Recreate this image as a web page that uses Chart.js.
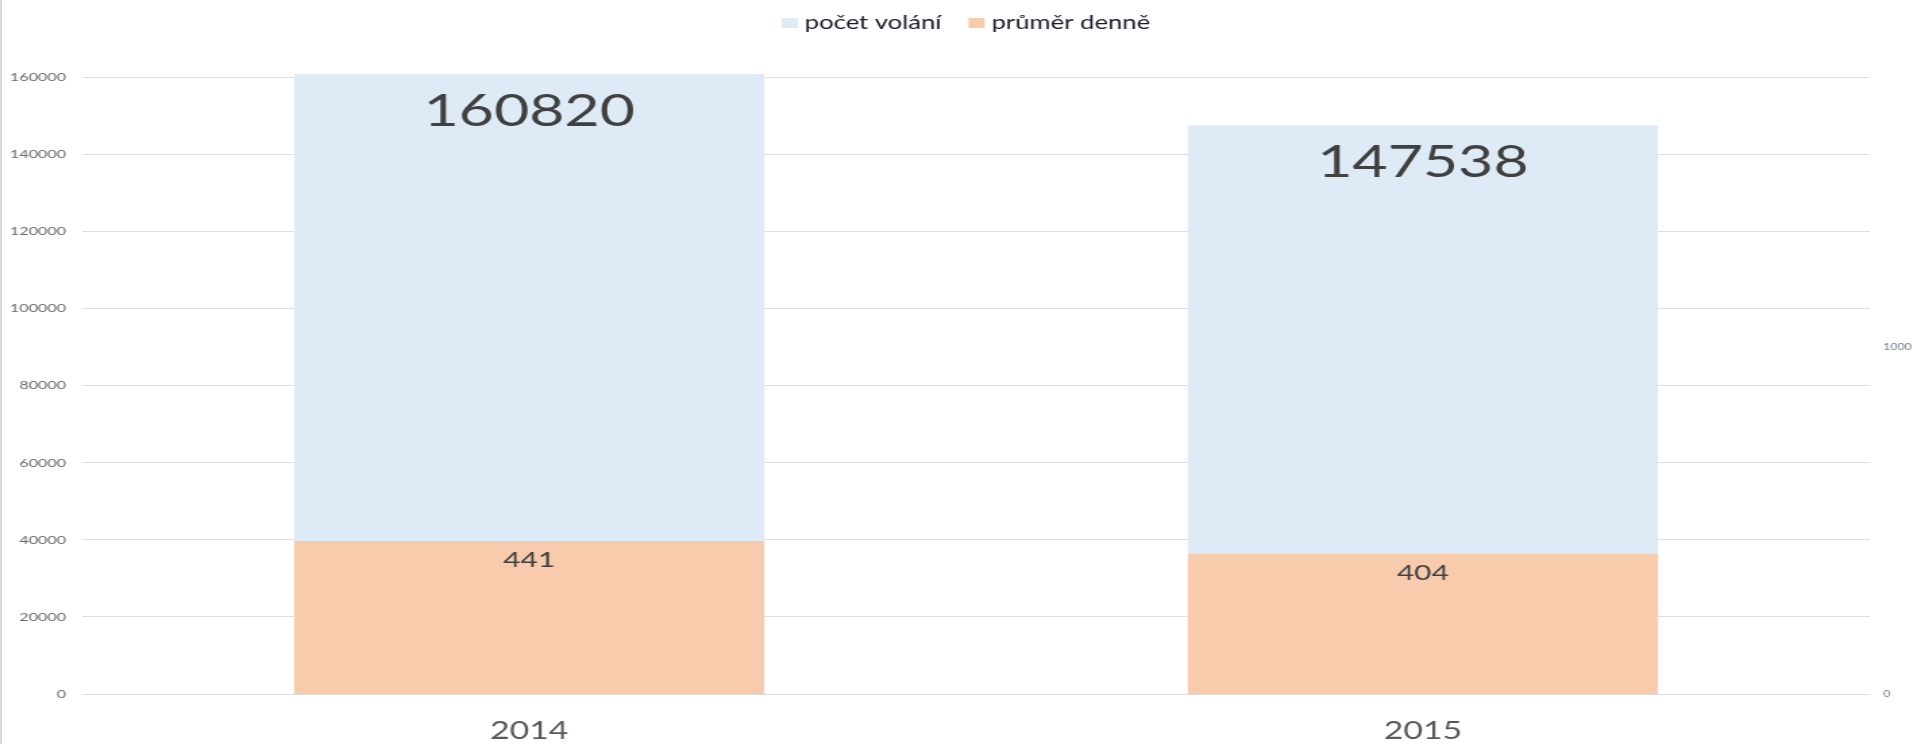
<!DOCTYPE html>
<html>
<head>
<meta charset="utf-8">
<script src="https://cdn.jsdelivr.net/npm/chart.js@4.4.1/dist/chart.umd.min.js"></script>
<style>
  html, body { margin: 0; padding: 0; background: #fff; overflow: hidden; }
  #edge { position: absolute; left: 0; top: 0; width: 2px; height: 744px; background: #d9d9d9; }
  /* the original picture is stretched sideways, so draw narrow and stretch */
  #wrap { position: absolute; left: 0; top: 0; width: 1417px; height: 744px;
          transform: scaleX(1.35); transform-origin: 0 0; }
</style>
</head>
<body>
<div id="wrap"><canvas id="chart"></canvas></div>
<div id="edge"></div>
<script>
const years = ["2014", "2015"];
const callCounts = [160820, 147538];
const dailyAverage = [441, 404];
const leftTicksMax = 180000;
const rightTicksMax = 2000;

// label font size per dataset
const labelSizes = { calls: 45, daily: 22 };

const barLabels = {
  id: "barLabels",
  afterDatasetsDraw(chart) {
    const ctx = chart.ctx;
    chart.data.datasets.forEach((ds, i) => {
      const meta = chart.getDatasetMeta(i);
      const size = labelSizes[ds.key];
      ctx.save();
      ctx.font = `${size}px Lato`;
      ctx.fillStyle = "#404040";
      ctx.textAlign = "center";
      ctx.textBaseline = "middle";
      meta.data.forEach((bar, j) => {
        ctx.fillText(String(ds.data[j]), bar.x, bar.y + size * 0.8 + 1.5);
      });
      ctx.restore();
    });
  },
};

// legend drawn on top of the plot, centred, like the original
const topLegend = {
  id: "topLegend",
  afterDraw(chart) {
    const ctx = chart.ctx;
    const boxW = 12, boxH = 10, gap = 5, itemGap = 20;
    ctx.save();
    ctx.font = "19px Lato";
    ctx.textBaseline = "middle";
    const items = chart.data.datasets.map((ds) => ({
      text: ds.label,
      color: ds.backgroundColor,
      w: ctx.measureText(ds.label).width,
    }));
    const total = items.reduce((s, it) => s + boxW + gap + it.w, 0) + itemGap * (items.length - 1);
    let x = chart.width / 2 + 7 - total / 2;
    const cy = 23;
    items.forEach((it) => {
      ctx.fillStyle = it.color;
      ctx.fillRect(x, cy - boxH / 2, boxW, boxH);
      x += boxW + gap;
      ctx.fillStyle = "#1a1a2e";
      ctx.fillText(it.text, x, cy);
      x += it.w + itemGap;
    });
    ctx.restore();
  },
};

const noPad = (s) => {
  s.paddingTop = 0;
  s.paddingBottom = 0;
};

const ctx = document.getElementById("chart");

new Chart(ctx, {
  type: "bar",
  data: {
    labels: years,
    datasets: [
      {
        key: "calls",
        label: "počet volání",
        data: callCounts,
        backgroundColor: "#DEEAF6",
        yAxisID: "y",
        order: 1,
      },
      {
        key: "daily",
        label: "průměr denně",
        data: dailyAverage,
        backgroundColor: "#F8CBAD",
        yAxisID: "y1",
        order: 0,
      },
    ],
  },
  options: {
    responsive: true,
    maintainAspectRatio: false,
    animation: false,
    layout: { padding: 0 },
    datasets: {
      bar: { grouped: false, categoryPercentage: 1, barPercentage: 0.526 },
    },
    plugins: {
      tooltip: { enabled: false },
      legend: { display: false },
    },
    scales: {
      x: {
        grid: { display: false },
        border: { display: false },
        ticks: { color: "#595959", font: { family: "Lato", size: 25 }, padding: 14 },
        afterFit: (s) => {
          s.height = 50;
          s.paddingLeft = 0;
          s.paddingRight = 0;
        },
      },
      y: {
        position: "left",
        min: 0,
        max: leftTicksMax,
        border: { display: false },
        grid: {
          drawTicks: false,
          color: (c) => (c.tick && c.tick.value === leftTicksMax ? "rgba(0,0,0,0)" : "#dedede"),
        },
        ticks: {
          stepSize: 20000,
          padding: 12,
          color: "#6e6a6a",
          font: { family: "Lato", size: 12 },
          callback: (v) => (v === leftTicksMax ? "" : String(v)),
        },
        afterFit: (s) => {
          s.width = 61;
          noPad(s);
        },
      },
      y1: {
        position: "right",
        min: 0,
        max: rightTicksMax,
        border: { display: false },
        grid: { display: false, drawTicks: false },
        ticks: {
          stepSize: 1000,
          padding: 10,
          color: "#6f7a96",
          font: { family: "Lato", size: 9 },
          callback: (v) => (v === rightTicksMax ? "" : String(v)),
        },
        afterFit: (s) => {
          s.width = 32;
          noPad(s);
        },
      },
    },
  },
  plugins: [barLabels, topLegend],
});
</script>
</body>
</html>
